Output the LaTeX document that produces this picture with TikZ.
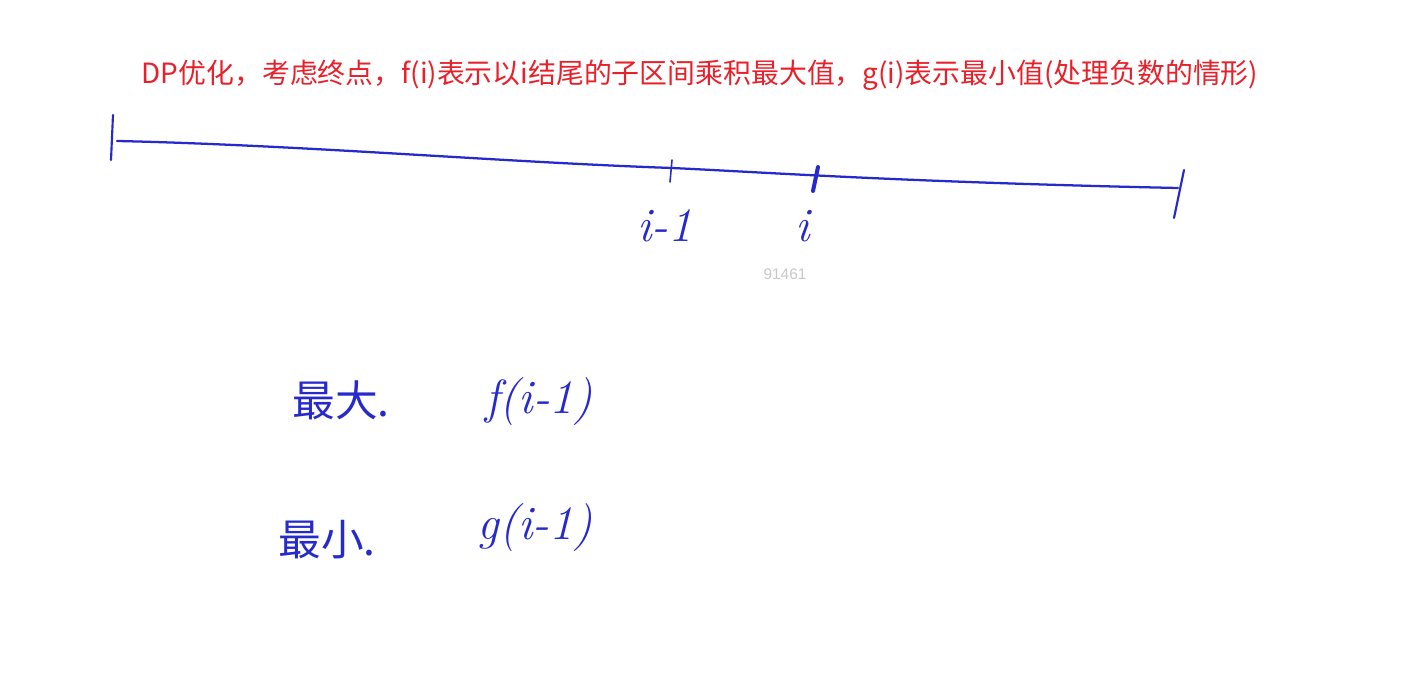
\documentclass[tikz,border=0pt]{standalone}
\usepackage{fontspec}
\newfontfamily\cjk{Noto Sans CJK SC}
\newfontfamily\wmfont{Liberation Sans}
\definecolor{titlered}{RGB}{232,32,42}
\definecolor{pen}{RGB}{38,42,205}
\definecolor{wmark}{RGB}{200,200,200}
\begin{document}
\begin{tikzpicture}[x=0.75pt,y=-0.75pt,
  penline/.style={draw=pen,line width=1.7pt,line cap=round},
  pentick/.style={draw=pen,line width=1.6pt,line cap=round},
  hand/.style={text=pen,font=\cjk\fontsize{32}{34}\selectfont,inner sep=0pt},
  handlat/.style={text=pen,font=\itshape\fontsize{36}{38}\selectfont,inner sep=0pt}]
\useasboundingbox (0,0) rectangle (1406,699);
\fill[white] (0,0) rectangle (1406,699);
% title
\node[text=titlered,font=\cjk\fontsize{20.9}{24}\selectfont,inner sep=0pt] (title) at (700,75)
  {DP优化，考虑终点，f(i)表示以i结尾的子区间乘积最大值，g(i)表示最小值(处理负数的情形)};
% number line
\coordinate (L) at (117,141);
\coordinate (R) at (1178,188);
\draw[penline] (L) .. controls (300,145) and (500,162) .. (672,168)
  .. controls (760,172) and (900,182) .. (R);
\coordinate (lt1) at (113,115); \coordinate (lt2) at (111,160);
\draw[pentick] (lt1) -- (lt2);
\coordinate (rt1) at (1184,170); \coordinate (rt2) at (1174,218);
\draw[pentick] (rt1) -- (rt2);
\coordinate (a1) at (672,160); \coordinate (a2) at (670,182);
\draw[draw=pen,line width=1.2pt,line cap=round] (a1) -- (a2);
\coordinate (b1) at (818,167); \coordinate (b2) at (813,191);
\draw[draw=pen,line width=3pt,line cap=round] (b1) -- (b2);
% tick labels
\node[handlat] (lim1) at (665,226) {i-1};
\node[handlat] (li) at (803,226) {i};
\node[text=wmark,font=\wmfont\fontsize{11.5}{13}\selectfont,inner sep=0pt] (wm) at (785,274) {91461};
% handwritten notes
\node[hand] (max) at (341,400) {最大.};
\node[handlat] (fexp) at (539,402) {f(i-1)};
\node[hand] (min) at (327,540) {最小.};
\node[handlat] (gexp) at (535,528) {g(i-1)};
\end{tikzpicture}
\end{document}
